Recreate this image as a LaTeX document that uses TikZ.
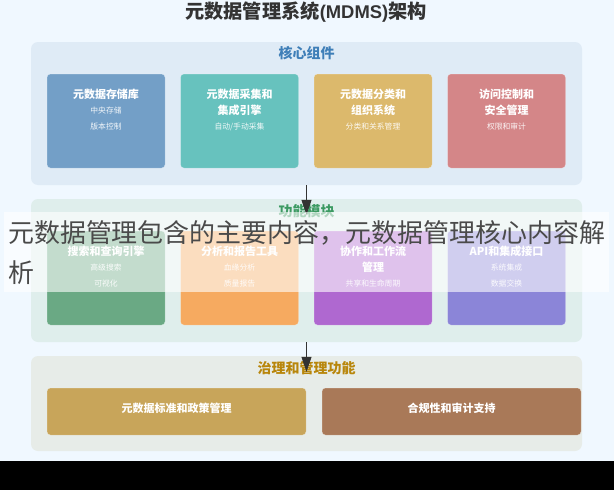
\documentclass[tikz,border=0pt]{standalone}
\usepackage{fontspec}
\setmainfont{Noto Sans CJK SC}
\newfontfamily\lat{Liberation Sans}
\usetikzlibrary{arrows.meta}
\definecolor{bgc}{HTML}{F0F8FF}
\definecolor{corep}{HTML}{DFEBF6}
\definecolor{funcp}{HTML}{DFEEEC}
\definecolor{govp}{HTML}{E7ECE8}
\definecolor{cblue}{HTML}{739FC7}
\definecolor{cteal}{HTML}{67C2BE}
\definecolor{cgold}{HTML}{DCB96C}
\definecolor{cred}{HTML}{D48688}
\definecolor{cgreen}{HTML}{6AA984}
\definecolor{corange}{HTML}{F6AA60}
\definecolor{cpurple}{HTML}{AF68D0}
\definecolor{cindigo}{HTML}{8B85D8}
\definecolor{cstd}{HTML}{C8A55A}
\definecolor{ccomp}{HTML}{A97958}
\definecolor{hblue}{HTML}{3F7FB8}
\definecolor{hgreen}{HTML}{3C9A62}
\definecolor{hgold}{HTML}{B8860B}
\definecolor{ink}{HTML}{333333}
\definecolor{veilink}{HTML}{4A4A4A}
\tikzset{
  panel/.style={fill=#1,draw=none,rounded corners=7pt,inner sep=0pt,minimum height=0pt},
  card/.style={fill=#1,draw=white,draw opacity=0.3,line width=0.5pt,rounded corners=3.5pt,inner sep=0pt},
  maintitle/.style={text=ink,font=\fontsize{19.2}{22}\selectfont\bfseries,inner sep=0pt},
  head/.style={text=#1,font=\fontsize{14}{16}\selectfont\bfseries,inner sep=0pt},
  ctitle/.style={text=white,font=\fontsize{11}{13}\selectfont\bfseries,inner sep=0pt},
  csub/.style={text=white,text opacity=0.9,font=\fontsize{7.8}{9}\selectfont,inner sep=0pt},
  flow/.style={draw=ink,line width=1pt,-{Triangle[length=15pt,width=10pt]}},
  veil/.style={fill=white,fill opacity=0.6,draw=none},
  veiltext/.style={text=veilink,font=\fontsize{25.95}{30}\selectfont,inner sep=0pt,anchor=west},
}
\begin{document}
\begin{tikzpicture}[x=1pt,y=-1pt]
\useasboundingbox (0,0) rectangle (614,490);
\fill[bgc] (0,0) rectangle (614,490);
\fill[black] (0,461) rectangle (614,490);
\node[maintitle] (title) at (306,12) {元数据管理系统{\lat\fontsize{18.4}{22}\selectfont (MDMS)}架构};

% panels
\node[panel=corep,minimum width=551pt,minimum height=143pt] (core) at (306.5,113.5) {};
\node[panel=funcp,minimum width=551pt,minimum height=143pt] (func) at (306.5,270.5) {};
\node[panel=govp,minimum width=551pt,minimum height=95pt] (gov) at (306.5,403.5) {};
\node[head=hblue] (coreh) at (306.5,53) {核心组件};
\node[head=hgreen] (funch) at (306.5,211) {功能模块};

% core cards
\node[card=cblue,minimum width=118pt,minimum height=94pt] (c1) at (106,121) {};
\node[card=cteal,minimum width=118pt,minimum height=94pt] (c2) at (239.5,121) {};
\node[card=cgold,minimum width=118pt,minimum height=94pt] (c3) at (373,121) {};
\node[card=cred,minimum width=118pt,minimum height=94pt] (c4) at (506.5,121) {};
\node[ctitle] (c1a) at (106,94) {元数据存储库};
\node[csub] (c1b) at (106,110.5) {中央存储};
\node[csub] (c1c) at (106,126.5) {版本控制};
\node[ctitle] (c2a) at (239.5,94) {元数据采集和};
\node[ctitle] (c2b) at (239.5,110) {集成引擎};
\node[csub] (c2c) at (239.5,126.5) {自动/手动采集};
\node[ctitle] (c3a) at (373,94) {元数据分类和};
\node[ctitle] (c3b) at (373,110) {组织系统};
\node[csub] (c3c) at (373,126.5) {分类和关系管理};
\node[ctitle] (c4a) at (506.5,94) {访问控制和};
\node[ctitle] (c4b) at (506.5,110) {安全管理};
\node[csub] (c4c) at (506.5,126.5) {权限和审计};

% function cards
\node[card=cgreen,minimum width=118pt,minimum height=94pt] (f1) at (106,278) {};
\node[card=corange,minimum width=118pt,minimum height=94pt] (f2) at (239.5,278) {};
\node[card=cpurple,minimum width=118pt,minimum height=94pt] (f3) at (373,278) {};
\node[card=cindigo,minimum width=118pt,minimum height=94pt] (f4) at (506.5,278) {};
\node[ctitle] (f1a) at (106,251) {搜索和查询引擎};
\node[csub] (f1b) at (106,267.5) {高级搜索};
\node[csub] (f1c) at (106,283.5) {可视化};
\node[ctitle] (f2a) at (239.5,251) {分析和报告工具};
\node[csub] (f2b) at (239.5,267.5) {血缘分析};
\node[csub] (f2c) at (239.5,283.5) {质量报告};
\node[ctitle] (f3a) at (373,251) {协作和工作流};
\node[ctitle] (f3b) at (373,267) {管理};
\node[csub] (f3c) at (373,283.5) {共享和生命周期};
\node[ctitle] (f4a) at (506.5,251) {API和集成接口};
\node[csub] (f4b) at (506.5,267.5) {系统集成};
\node[csub] (f4c) at (506.5,283.5) {数据交换};

% governance
\node[head=hgold] (govh) at (306.5,368) {治理和管理功能};
\node[card=cstd,minimum width=259pt,minimum height=47pt] (g1) at (176.5,411.5) {};
\node[card=ccomp,minimum width=259pt,minimum height=47pt] (g2) at (451.5,411.5) {};
\node[ctitle] (g1a) at (176.5,408) {元数据标准和政策管理};
\node[ctitle] (g2a) at (451.5,408) {合规性和审计支持};

% connectors
\draw[flow,shorten >=-16pt] (core.south) -- (func.north);
\draw[flow,shorten >=-16pt] (func.south) -- (gov.north);

% caption veil
\node[veil,minimum width=605pt,minimum height=80pt,inner sep=0pt] (veilbox) at (306.5,252) {};
\node[veiltext] (v1) at (8,233) {元数据管理包含的主要内容，元数据管理核心内容解};
\node[veiltext] (v2) at (8,273) {析};
\end{tikzpicture}
\end{document}
